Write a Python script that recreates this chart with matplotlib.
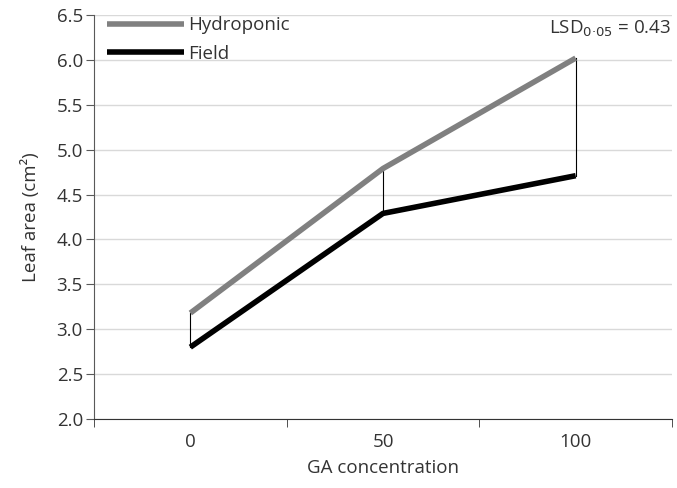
import matplotlib
matplotlib.use("Agg")
import matplotlib.pyplot as plt
import numpy as np

categories = ["0", "50", "100"]
hydroponic = [3.18, 4.79, 6.02]
field = [2.80, 4.29, 4.71]
yticks = [2.0, 2.5, 3.0, 3.5, 4.0, 4.5, 5.0, 5.5, 6.0, 6.5]

plt.rcParams['font.family'] = ['Open Sans', 'DejaVu Sans']
FS = 13.5

fig = plt.figure(figsize=(6.77, 4.88), dpi=100)
ax = fig.add_axes([94/677, 1-419/488, (672-94)/677, (419-15)/488])

x = np.arange(len(categories))
for xi, h, f in zip(x, hydroponic, field):
    ax.plot([xi, xi], [f, h], color='#000000', lw=0.8, zorder=2)
ax.plot(x, hydroponic, color='#808080', lw=4, solid_capstyle='butt', label='Hydroponic', zorder=3)
ax.plot(x, field, color='#000000', lw=4, solid_capstyle='butt', label='Field', zorder=3)

ax.set_xlim(-0.5, 2.5)
ax.set_ylim(2.0, 6.5)
ax.set_yticks(yticks)
ax.set_yticklabels([f"{v:.1f}" for v in yticks], fontsize=FS, color='#333333')
ax.set_xticks(x)
ax.set_xticklabels(categories, fontsize=FS, color='#333333')
ax.set_xticks([-0.5, 0.5, 1.5, 2.5], minor=True)
ax.tick_params(axis='x', which='major', length=0, pad=10)
ax.tick_params(axis='x', which='minor', length=6, direction='out', color='#333333')
ax.tick_params(axis='y', length=6, direction='out', color='#595959', pad=2)

ax.grid(axis='y', color='#d9d9d9', lw=1)
ax.set_axisbelow(True)
for s in ['top', 'right']:
    ax.spines[s].set_visible(False)
ax.spines['left'].set_color('#595959')
ax.spines['bottom'].set_color('#333333')

ax.set_xlabel("GA concentration", fontsize=FS, color='#333333', labelpad=6)
ax.set_ylabel("Leaf area (cm\u00b2)", fontsize=FS, color='#333333', labelpad=12)

leg = ax.legend(loc='upper left', bbox_to_anchor=(0.01, 1.015), frameon=False, fontsize=FS,
                handlelength=4.1, handletextpad=0.2, labelspacing=0.55, borderaxespad=0)
for t in leg.get_texts():
    t.set_color('#333333')

ax.text(0.998, 0.965, "LSD$_{0\u00b705}$ = 0.43", transform=ax.transAxes, ha='right', va='center',
        fontsize=FS, color='#333333')

fig.savefig("out.png", dpi=100)
